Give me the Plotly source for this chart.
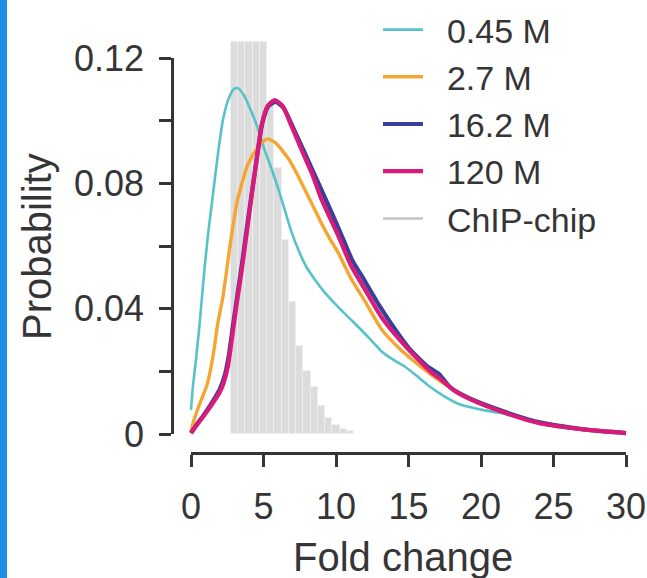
import plotly.graph_objects as go

# ---- data -------------------------------------------------------------
# Fold-change distributions for each sequencing depth (x = fold change, p = probability)
x_045 = [0, 0.14, 0.34, 0.62, 0.89, 1.17, 1.51, 1.85, 2.20, 2.61, 2.95, 3.23, 3.64, 4.05,
         4.53, 5.08, 5.56, 6.04, 6.45, 6.93, 7.41, 7.96, 8.51, 9.20, 9.89, 10.57, 11.40,
         12.29, 13.18, 14.00, 14.69, 15.58, 16.41, 17.44, 18.47, 19.50, 20.53, 21.69,
         23.96, 25.50, 27.39, 30.0]
p_045 = [0.0077, 0.0156, 0.0236, 0.0364, 0.0508, 0.0635, 0.0763, 0.0891, 0.1002, 0.1072,
         0.1101, 0.1104, 0.1082, 0.1041, 0.0986, 0.0906, 0.0846, 0.0779, 0.0718, 0.0645,
         0.0587, 0.0533, 0.0495, 0.0453, 0.0418, 0.0386, 0.0348, 0.0306, 0.0262, 0.0236,
         0.0217, 0.0185, 0.0153, 0.0121, 0.0096, 0.0083, 0.0073, 0.0064, 0.0035, 0.0021,
         0.0013, 0.0003]

x_27 = [0, 0.21, 0.62, 1.10, 1.51, 1.85, 2.20, 2.68, 3.16, 3.50, 3.91, 4.39, 4.87, 5.29,
        5.84, 6.32, 6.73, 7.28, 7.83, 8.38, 8.99, 9.54, 10.16, 11.05, 11.94, 13.18, 14.35,
        15.72, 17.09, 19.36, 21.69, 23.96, 27.39, 30.0]
p_27 = [0.0010, 0.0045, 0.0099, 0.0156, 0.0246, 0.0354, 0.0437, 0.0597, 0.0737, 0.0798,
        0.0859, 0.0900, 0.0929, 0.0942, 0.0929, 0.0903, 0.0878, 0.0833, 0.0782, 0.0731,
        0.0673, 0.0626, 0.0578, 0.0495, 0.0428, 0.0332, 0.0274, 0.0220, 0.0172, 0.0109,
        0.0067, 0.0035, 0.0013, 0.0003]

x_162 = [0, 0.41, 0.82, 1.51, 1.99, 2.33, 2.61, 2.88, 3.23, 3.57, 3.91, 4.26, 4.60, 4.94,
         5.35, 5.84, 6.38, 7.00, 7.76, 8.44, 9.13, 10.23, 11.12, 11.94, 12.84, 13.87, 15.03,
         16.27, 17.09, 17.92, 19.15, 21.69, 23.96, 27.39, 30.0]
p_162 = [0.0003, 0.0032, 0.0057, 0.0105, 0.0144, 0.0188, 0.0252, 0.0342, 0.0453, 0.0562,
         0.0677, 0.0792, 0.0900, 0.0996, 0.1047, 0.1060, 0.1041, 0.0983, 0.0906, 0.0836,
         0.0766, 0.0651, 0.0555, 0.0492, 0.0421, 0.0348, 0.0274, 0.0217, 0.0192, 0.0147,
         0.0115, 0.0070, 0.0038, 0.0013, 0.0003]

x_120 = [0, 0.41, 0.82, 1.51, 1.99, 2.27, 2.54, 2.81, 3.16, 3.50, 3.84, 4.19, 4.53, 4.87,
         5.29, 5.77, 6.32, 6.93, 7.69, 8.38, 8.99, 10.16, 11.05, 11.81, 13.18, 14.83, 16.61,
         17.09, 18.12, 19.36, 21.69, 23.96, 27.39, 30.0]
p_120 = [0.0003, 0.0029, 0.0054, 0.0099, 0.0134, 0.0166, 0.0214, 0.0300, 0.0418, 0.0523,
         0.0642, 0.0763, 0.0875, 0.0986, 0.1047, 0.1066, 0.1047, 0.0983, 0.0900, 0.0827,
         0.0750, 0.0632, 0.0536, 0.0476, 0.0370, 0.0278, 0.0195, 0.0179, 0.0140, 0.0109,
         0.0067, 0.0035, 0.0013, 0.0003]

# ChIP-chip histogram (bin centres, bin width 0.5)
chip_x = [3.0, 3.5, 4.0, 4.5, 5.0, 5.5, 6.0, 6.5, 7.0, 7.5, 8.0, 8.5, 9.0, 9.5, 10.0,
          10.5, 11.0]
chip_p = [0.125, 0.125, 0.125, 0.125, 0.125, 0.105, 0.085, 0.062, 0.042, 0.028, 0.020,
          0.015, 0.009, 0.005, 0.003, 0.0015, 0.001]

series = [
    ("0.45 M", x_045, p_045, "#56c3c8", 2.6),
    ("2.7 M", x_27, p_27, "#f3a632", 3.4),
    ("16.2 M", x_162, p_162, "#3b3f99", 4.2),
    ("120 M", x_120, p_120, "#d81b7b", 4.2),
]

x_ticks = [0, 5, 10, 15, 20, 25, 30]
y_ticks = [0, 0.02, 0.04, 0.06, 0.08, 0.10, 0.12]
y_ticktext = ["0", "", "0.04", "", "0.08", "", "0.12"]

# ---- figure -----------------------------------------------------------
W, H = 647, 578
FONT = "Liberation Sans, Arial, sans-serif"
INK = "#353535"
PAD = "\u00a0\u00a0"   # spacing between legend key and label

fig = go.Figure()

fig.add_trace(go.Bar(
    x=chip_x, y=chip_p, width=0.5,
    marker=dict(color="#dcdcdc", line=dict(color="#efefef", width=1)),
    showlegend=False, name="ChIP-chip",
))

for name, xs, ps, color, lw in series:
    fig.add_trace(go.Scatter(
        x=xs, y=ps, mode="lines", name=PAD + name,
        line=dict(color=color, width=lw, shape="spline", smoothing=0.6),
    ))

# legend key for the histogram
fig.add_trace(go.Scatter(
    x=[None], y=[None], mode="lines", name=PAD + "ChIP-chip",
    line=dict(color="#c4c4c4", width=2.5),
))

# empty trace so the offset axis pair is laid out
fig.add_trace(go.Scatter(
    x=[], y=[], xaxis="x2", yaxis="y2", mode="lines",
    showlegend=False, hoverinfo="skip",
))

# pixel geometry of the panel
px_per_x = 14.5          # pixels per fold-change unit
px_per_y = 3133.0        # pixels per probability unit
x0_px, y0_px = 191, 434  # pixel position of (0, 0)

def fx(px):
    return px / W

def fy(py):
    return (H - py) / H

data_left, data_right = 172, W
data_top, data_bottom = 30, 460

fig.update_layout(
    width=W, height=H,
    margin=dict(l=0, r=0, t=0, b=0, autoexpand=False),
    paper_bgcolor="white", plot_bgcolor="rgba(0,0,0,0)",
    font=dict(family=FONT, color=INK, size=36),
    bargap=0,
    # data axes (hidden, carry the traces)
    xaxis=dict(
        domain=[fx(data_left), fx(data_right)],
        range=[(data_left - x0_px) / px_per_x, (data_right - x0_px) / px_per_x],
        visible=False,
    ),
    yaxis=dict(
        domain=[fy(data_bottom), fy(data_top)],
        range=[(y0_px - data_bottom) / px_per_y, (y0_px - data_top) / px_per_y],
        visible=False,
    ),
    # offset axis lines with ticks
    xaxis2=dict(
        domain=[fx(x0_px), fx(x0_px + 30 * px_per_x)],
        range=[0, 30], anchor="free", position=fy(453),
        showline=True, linecolor=INK, linewidth=2.5,
        ticks="outside", ticklen=12, tickwidth=2.5, tickcolor=INK,
        tickvals=x_ticks, tickfont=dict(size=36, color=INK),
        ticklabelstandoff=9,
        showgrid=False, zeroline=False,
    ),
    yaxis2=dict(
        domain=[fy(y0_px), fy(y0_px - 0.12 * px_per_y)],
        range=[0, 0.12], anchor="free", position=fx(172),
        showline=True, linecolor=INK, linewidth=2.5,
        ticks="outside", ticklen=12, tickwidth=2.5, tickcolor=INK,
        tickvals=y_ticks, ticktext=y_ticktext, tickfont=dict(size=36, color=INK),
        ticklabelstandoff=8,
        showgrid=False, zeroline=False,
    ),
    legend=dict(
        x=fx(378), y=fy(1), xanchor="left", yanchor="top",
        font=dict(size=34, color=INK, family=FONT),
        bgcolor="rgba(0,0,0,0)", tracegroupgap=0, itemwidth=40,
    ),
    shapes=[
        dict(type="rect", xref="paper", yref="paper", x0=0, x1=fx(7), y0=0, y1=1,
             fillcolor="#1a8fe6", line=dict(width=0), layer="above"),
    ],
    annotations=[
        dict(text="Fold change", xref="paper", yref="paper", x=fx(403), y=fy(557),
             xanchor="center", yanchor="middle",
             showarrow=False, font=dict(size=40, color=INK, family=FONT)),
        dict(text="Probability", xref="paper", yref="paper", x=fx(37), y=fy(247),
             xanchor="center", yanchor="middle",
             textangle=-90, showarrow=False, font=dict(size=40, color=INK, family=FONT)),
    ],
)

fig.write_html("out.html")
